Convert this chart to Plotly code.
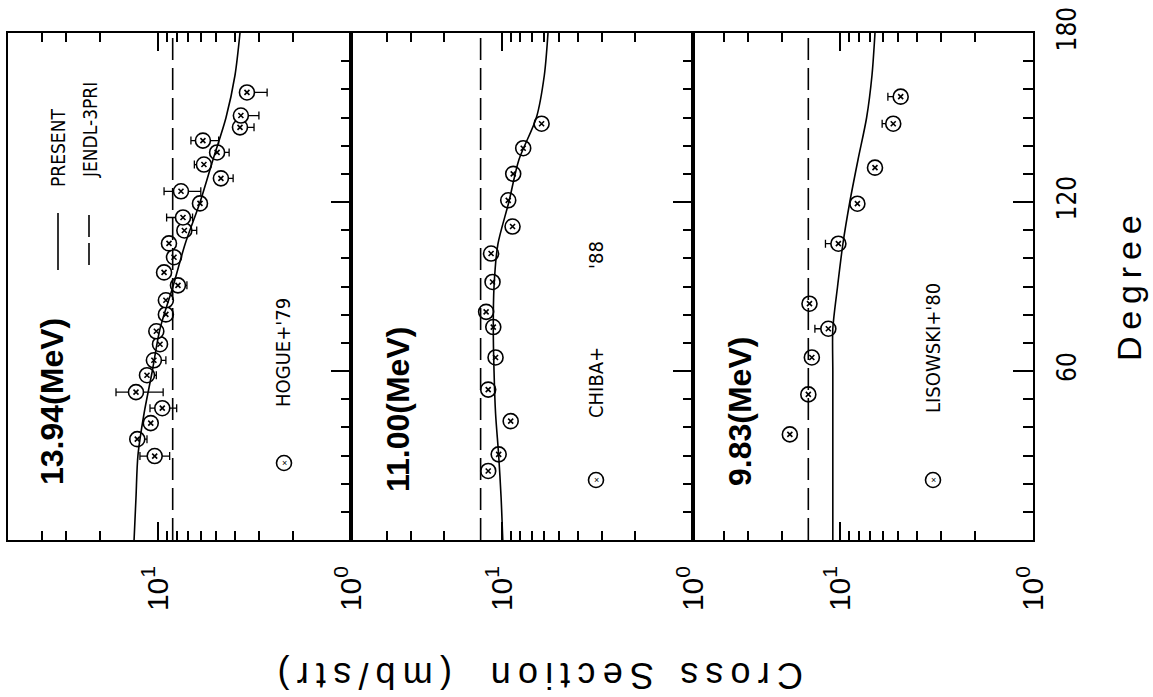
import plotly.graph_objects as go

W, H = 1153, 697

# ---------------- data ----------------
CURVE_ANG = [0, 15, 30, 45, 60, 75, 90, 105, 120, 135, 150, 165, 180]
P1_PRESENT = [13.3, 13.0, 12.7, 11.8, 10.7, 9.76, 8.36, 7.24, 6.05, 5.19, 4.44, 3.99, 3.76]
P2_PRESENT = [9.9, 10.1, 10.4, 10.8, 11.0, 11.1, 11.0, 10.5, 9.2, 8.15, 6.6, 6.0, 5.74]
P3_PRESENT = [10.9, 10.9, 10.9, 10.9, 10.9, 10.9, 10.3, 9.67, 8.9, 8.07, 7.28, 6.83, 6.59]

JENDL_ANG = [0, 180]
P1_JENDL = [8.39, 8.39]
P2_JENDL = [12.93, 12.93]
P3_JENDL = [14.6, 14.6]

P1_ANG = [29.8, 35.8, 41.5, 46.8, 52.5, 58.5, 63.8, 69.5, 74.1, 80.1, 85.1, 90.4, 95.0,
          100.4, 105.3, 109.9, 114.5, 119.5, 123.8, 128.4, 133.3, 137.6, 141.8, 146.5,
          150.7, 158.9]
P1_VAL = [10.4, 12.8, 10.9, 9.5, 13.0, 11.4, 10.5, 9.76, 10.2, 9.1, 9.1, 7.88, 9.3,
          8.26, 8.77, 7.3, 7.42, 6.06, 7.6, 4.72, 5.78, 4.94, 5.85, 3.76,
          3.72, 3.46]
P1_ERR_UP = [2.0, 0.3, 0.3, 1.5, 3.5, 0.3, 0.3, 0.4, 0.5, 0.3, 0.3, 0.3, 0.3,
             0.3, 0.6, 0.3, 1.6, 0.3, 1.7, 0.2, 0.7, 0.4, 0.9, 0.0,
             0.0, 0.0]
P1_ERR_DN = [1.7, 1.4, 0.3, 1.5, 3.6, 1.2, 1.4, 0.4, 0.5, 0.3, 0.6, 0.8, 0.3,
             0.6, 0.3, 1.0, 0.8, 0.45, 1.6, 0.64, 0.3, 0.66, 1.0, 0.58,
             0.72, 0.74]

P2_ANG = [24.5, 30.4, 42.2, 53.4, 64.8, 75.6, 81.0, 91.6, 101.7, 111.3, 120.6, 130.0, 139.1, 147.8]
P2_VAL = [11.8, 10.4, 9.0, 11.8, 10.8, 11.1, 12.1, 11.2, 11.4, 8.8, 9.27, 8.73, 7.74, 6.2]

P3_ANG = [37.5, 51.7, 64.8, 75.0, 83.9, 105.2, 119.4, 132.2, 147.8, 157.4]
P3_VAL = [18.2, 14.6, 14.0, 11.5, 14.4, 10.2, 8.13, 6.59, 5.3, 4.85]
P3_ERR_UP = [0.0, 0.0, 0.0, 2.0, 0.0, 1.7, 0.0, 0.0, 0.75, 0.8]
P3_ERR_DN = [0.0, 0.0, 0.0, 0.0, 0.0, 0.0, 0.0, 0.0, 0.0, 0.0]

ENERGY_LABELS = ["13.94(MeV)", "11.00(MeV)", "9.83(MeV)"]
DEG_TICKS = [60, 120, 180]
LOG_MAJOR = [1, 10]
LOG_MAJOR_TEXT = ["10<sup>0</sup>", "10<sup>1</sup>"]
LOG_MINOR = [2, 3, 4, 5, 6, 7, 8, 9, 20, 30, 40]

# ---------------- helpers ----------------
def px(x):
    return x / W


def py(y):
    return 1 - y / H


NARROW = "Liberation Sans Narrow, DejaVu Sans Condensed, Arial Narrow, sans-serif"
SANS = "Liberation Sans, Arial, sans-serif"

panels = [
    dict(dom=(8, 351), rng=1.777, cur=P1_PRESENT, jen=P1_JENDL, ang=P1_ANG, val=P1_VAL,
         up=P1_ERR_UP, dn=P1_ERR_DN),
    dict(dom=(351, 693), rng=1.79, cur=P2_PRESENT, jen=P2_JENDL, ang=P2_ANG, val=P2_VAL,
         up=None, dn=None),
    dict(dom=(693, 1033), rng=1.762, cur=P3_PRESENT, jen=P3_JENDL, ang=P3_ANG, val=P3_VAL,
         up=P3_ERR_UP, dn=P3_ERR_DN),
]

fig = go.Figure()
layout = dict(
    width=W, height=H, margin=dict(l=0, r=0, t=0, b=0, autoexpand=False),
    paper_bgcolor="white", plot_bgcolor="white", showlegend=False,
)

Y_DOM = [py(540), py(33)]

for i, p in enumerate(panels, start=1):
    xa = "x" if i == 1 else f"x{i}"
    ya = "y" if i == 1 else f"y{i}"
    err = dict(type="data", symmetric=False, color="black", thickness=1.3, width=4,
               array=p["up"] if p["up"] else [0] * len(p["val"]),
               arrayminus=p["dn"] if p["dn"] else [0] * len(p["val"]),
               visible=p["up"] is not None)
    fig.add_trace(go.Scatter(
        x=p["val"], y=p["ang"], mode="markers", xaxis=xa, yaxis=ya,
        marker=dict(symbol="circle", size=15, color="white",
                    line=dict(color="black", width=1.6)),
        error_x=err, cliponaxis=False))
    fig.add_trace(go.Scatter(
        x=p["val"], y=p["ang"], mode="markers", xaxis=xa, yaxis=ya,
        marker=dict(symbol="x-thin", size=5, line=dict(color="black", width=1.6))))
    fig.add_trace(go.Scatter(
        x=p["jen"], y=JENDL_ANG, mode="lines", xaxis=xa, yaxis=ya,
        line=dict(color="black", width=1.6, dash="22px,8px")))
    fig.add_trace(go.Scatter(
        x=p["cur"], y=CURVE_ANG, mode="lines", xaxis=xa, yaxis=ya,
        line=dict(color="black", width=1.6, shape="spline", smoothing=0.8)))

    xkey = "xaxis" if i == 1 else f"xaxis{i}"
    ykey = "yaxis" if i == 1 else f"yaxis{i}"
    layout[xkey] = dict(
        domain=[px(p["dom"][0]), px(p["dom"][1])], type="log",
        range=[p["rng"], 0], autorange=False, anchor="y", automargin=False,
        showline=True, linecolor="black", linewidth=2, mirror="ticks",
        showgrid=False, zeroline=False,
        ticks="inside", ticklen=18, tickwidth=1.6, tickcolor="black",
        tickmode="array", tickvals=LOG_MAJOR, ticktext=LOG_MAJOR_TEXT,
        tickangle=-90, ticklabelstandoff=12,
        tickfont=dict(family=SANS, size=30, color="black"),
        minor=dict(ticks="inside", ticklen=9, tickwidth=1.5, tickcolor="black",
                   tickmode="array", tickvals=LOG_MINOR, showgrid=False),
    )
    yax = dict(
        domain=Y_DOM, range=[0, 180], autorange=False, anchor=xa, side="right",
        automargin=False,
        showline=True, linecolor="black", linewidth=2, mirror=True,
        showgrid=False, zeroline=False,
        ticks="inside", ticklen=20, tickwidth=1.6, tickcolor="black",
        tickmode="array", tickvals=DEG_TICKS, ticktext=[str(v) for v in DEG_TICKS],
        showticklabels=(i == 3), tickangle=-90, ticklabelstandoff=10,
        tickfont=dict(family=NARROW, size=26, color="black"),
        minor=dict(ticks="inside", ticklen=10, tickwidth=1.5, tickcolor="black",
                   dtick=10, tick0=0, showgrid=False),
    )
    if i > 1:
        yax["overlaying"] = "y"
    layout[ykey] = yax

annotations = []


def ann(text, x, y, size, angle=-90, family=NARROW, bold=False):
    annotations.append(dict(
        text=f"<b>{text}</b>" if bold else text, x=px(x), y=py(y), xref="paper", yref="paper",
        xanchor="center", yanchor="middle", showarrow=False, textangle=angle,
        font=dict(family=family, size=size, color="black")))


# energy labels
ann(ENERGY_LABELS[0], 52, 402, 32, family=SANS, bold=True)
ann(ENERGY_LABELS[1], 398, 410, 32, family=SANS, bold=True)
ann(ENERGY_LABELS[2], 740, 412, 32, family=SANS, bold=True)
# legend texts
ann("PRESENT", 58, 148, 19)
ann("JENDL-3PRI", 90, 130, 19)
ann("HOGUE+'79", 283, 353, 20)
ann("CHIBA+", 596, 383, 20)
ann("'88", 596, 255, 20)
ann("LISOWSKI+'80", 933, 348, 20)
# axis titles
ann("D\u2009e\u2009g\u2009r\u2009e\u2009e", 1129, 288, 34, family=SANS)
ann("C\u2009r\u2009o\u2009s\u2009s", 742, 676, 36, angle=180, family=SANS)
ann("S\u2009e\u2009c\u2009t\u2009i\u2009o\u2009n", 573, 676, 36, angle=180, family=SANS)
ann("(\u2009m\u2009b\u2009/\u2009s\u2009t\u2009r\u2009)", 365, 676, 36, angle=180, family=SANS)

# legend marker symbols (circle with small x)
for cx, cy in [(284, 463), (596, 480), (933, 480)]:
    annotations.append(dict(text="×", x=px(cx), y=py(cy), xref="paper", yref="paper",
                            xanchor="center", yanchor="middle", showarrow=False,
                            font=dict(size=9, color="black", family=SANS)))

shapes = []
for cx, cy in [(284, 463), (596, 480), (933, 480)]:
    shapes.append(dict(type="circle", xref="paper", yref="paper",
                       x0=px(cx - 7.5), x1=px(cx + 7.5), y0=py(cy + 7.5), y1=py(cy - 7.5),
                       line=dict(color="black", width=1.6)))
shapes.append(dict(type="line", xref="paper", yref="paper", x0=px(58), x1=px(58),
                   y0=py(213), y1=py(270), line=dict(color="black", width=1.6)))
shapes.append(dict(type="line", xref="paper", yref="paper", x0=px(89), x1=px(89),
                   y0=py(215), y1=py(270), line=dict(color="black", width=1.6, dash="22px,6px")))

layout["annotations"] = annotations
layout["shapes"] = shapes
fig.update_layout(**layout)
fig.write_html("out.html")
